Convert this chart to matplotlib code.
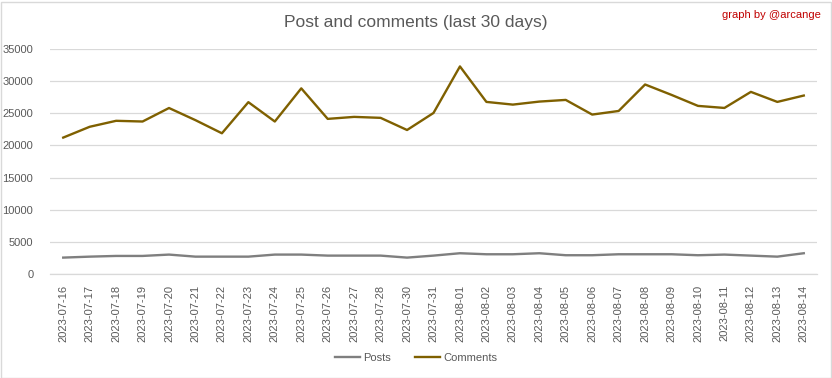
import matplotlib
matplotlib.use("Agg")
import matplotlib.pyplot as plt
from matplotlib.patches import Rectangle

dates = ["2023-07-16", "2023-07-17", "2023-07-18", "2023-07-19", "2023-07-20",
         "2023-07-21", "2023-07-22", "2023-07-23", "2023-07-24", "2023-07-25",
         "2023-07-26", "2023-07-27", "2023-07-28", "2023-07-30", "2023-07-31",
         "2023-08-01", "2023-08-02", "2023-08-03", "2023-08-04", "2023-08-05",
         "2023-08-06", "2023-08-07", "2023-08-08", "2023-08-09", "2023-08-10",
         "2023-08-11", "2023-08-12", "2023-08-13", "2023-08-14"]
posts = [2550, 2700, 2810, 2810, 3020, 2700, 2700, 2700, 3020, 3020,
         2860, 2860, 2860, 2550, 2860, 3230, 3070, 3070, 3230, 2920,
         2920, 3070, 3070, 3070, 2920, 3020, 2860, 2700, 3230]
comments = [21220, 22900, 23830, 23720, 25820, 23930, 21890, 26730, 23720, 28880,
            24130, 24440, 24290, 22400, 25050, 32290, 26770, 26350, 26820, 27080,
            24800, 25360, 29480, 27860, 26150, 25830, 28330, 26770, 27760]
yticks = [0, 5000, 10000, 15000, 20000, 25000, 30000, 35000]

plt.rcParams['font.family'] = ['Liberation Sans', 'DejaVu Sans']
txt = '#595959'

fig = plt.figure(figsize=(8.32, 3.78), dpi=100)
ax = fig.add_axes([50/832, 1-274/378, (817-50)/832, (274-49)/378])

x = list(range(len(dates)))
ax.plot(x, posts, color='#7F7F7F', lw=1.7, label='Posts', solid_joinstyle='round')
ax.plot(x, comments, color='#7F6000', lw=1.7, label='Comments', solid_joinstyle='round')

ax.set_xlim(-0.5, len(dates) - 0.5)
ax.set_ylim(0, 35000)
ax.set_yticks(yticks)
ax.set_yticklabels([str(v) for v in yticks], fontsize=8, color=txt)
ax.set_xticks(x)
ax.set_xticklabels(dates, rotation=90, fontsize=8, color=txt)
ax.tick_params(axis='both', length=0)
ax.tick_params(axis='y', pad=12)
ax.tick_params(axis='x', pad=8)
ax.grid(axis='y', color='#D9D9D9', lw=0.9)
ax.set_axisbelow(True)
for s in ['top', 'right', 'left']:
    ax.spines[s].set_visible(False)
ax.spines['bottom'].set_color('#D9D9D9')
ax.spines['bottom'].set_linewidth(0.9)

fig.text(416/832, 1-22/378, 'Post and comments (last 30 days)', ha='center', va='center',
         fontsize=12.5, color=txt)
fig.text(821/832, 1-15/378, 'graph by @arcange', ha='right', va='center',
         fontsize=8, color='#C00000')

leg = fig.legend(loc='center', bbox_to_anchor=(416/832, 1-358/378), ncol=2, frameon=False,
                 fontsize=8, handlelength=2.2, columnspacing=2.2, handletextpad=0.3)
for t in leg.get_texts():
    t.set_color(txt)

fig.patches.append(Rectangle((0.5/832, 0.5/378), 830/832, 376/378, transform=fig.transFigure,
                             fill=False, edgecolor='#D9D9D9', lw=1))

fig.savefig('out.png', dpi=100, facecolor='white')
